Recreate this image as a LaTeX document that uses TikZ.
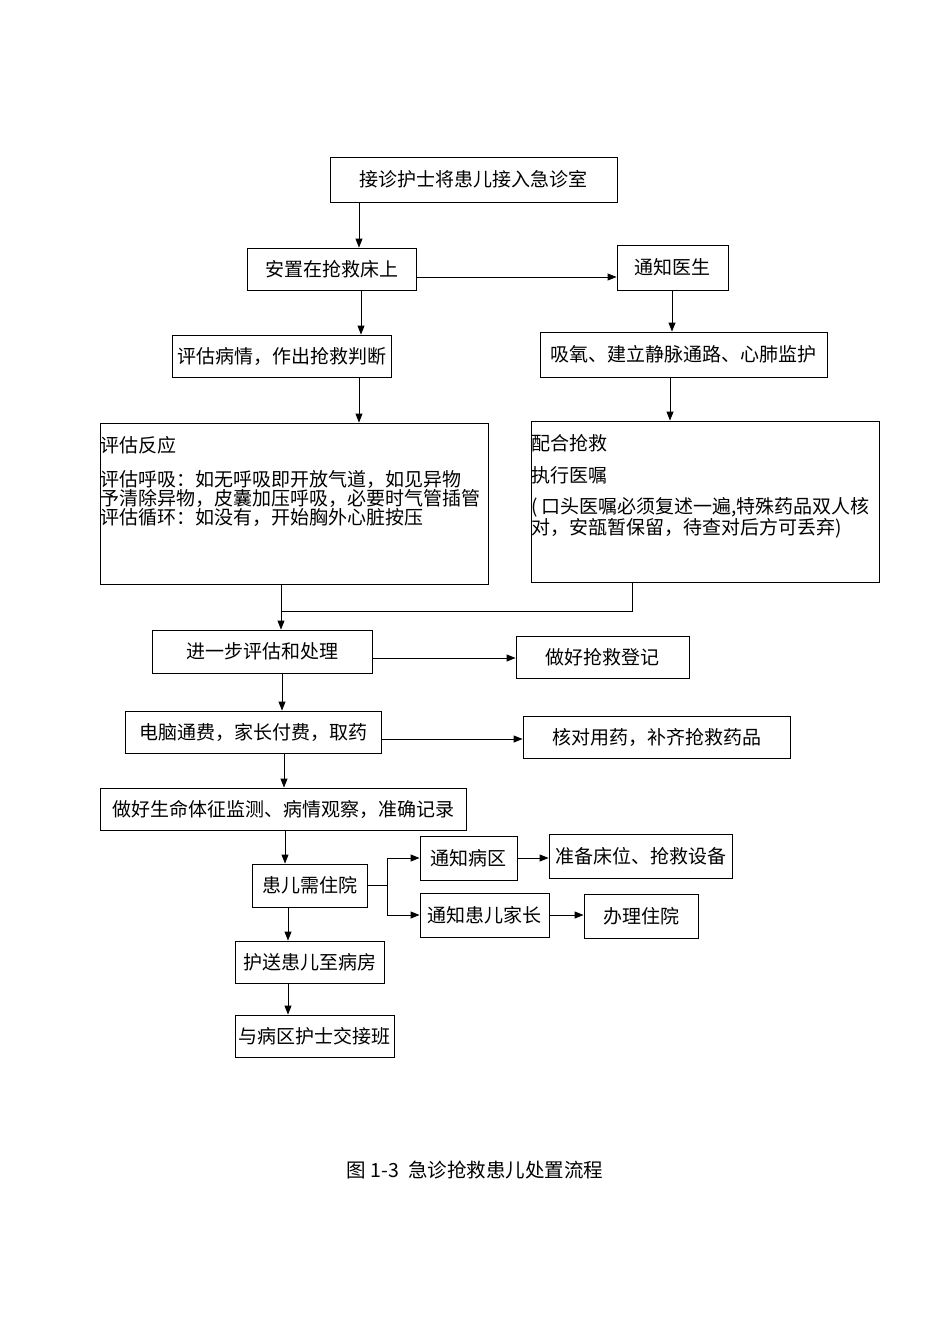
\documentclass[tikz,border=0pt]{standalone}
\usepackage{fontspec}
\setmainfont{Noto Sans CJK SC}
\usetikzlibrary{arrows.meta}

\begin{document}
\begin{tikzpicture}[x=1pt,y=-1pt,
  every node/.style={inner sep=0pt},
  flowbox/.style={draw,line width=0.9pt,font=\fontsize{19}{19}\selectfont},
  arr/.style={line width=0.9pt,-{Triangle[length=9pt,width=7pt]}},
  conn/.style={line width=0.9pt}]
\useasboundingbox (0,0) rectangle (950,1344);
\node[flowbox,minimum width=287,minimum height=45] (recv) at (473.5,179.5) {接诊护士将患儿接入急诊室};
\node[flowbox,minimum width=169,minimum height=42] (bed) at (331.5,269) {安置在抢救床上};
\node[flowbox,minimum width=111,minimum height=45] (doc) at (672.5,267.5) {通知医生};
\node[flowbox,minimum width=219,minimum height=42] (judge) at (281.5,356) {评估病情，作出抢救判断};
\node[flowbox,minimum width=287,minimum height=45] (oxy) at (683.5,354.5) {吸氧、建立静脉通路、心肺监护};
\node[flowbox,minimum width=388,minimum height=161] (resp) at (294,503.5) {};
\node[anchor=north west,align=left,font=\fontsize{19}{19}\selectfont] (resptxt) at ([xshift=1,yshift=-14]resp.north west)
  {评估反应\\[15pt]评估呼吸：如无呼吸即开放气道，如见异物\\予清除异物，皮囊加压呼吸，必要时气管插管\\评估循环：如没有，开始胸外心脏按压};
\node[flowbox,minimum width=348,minimum height=161] (coop) at (705,501.5) {};
\node[anchor=north west,align=left,font=\fontsize{19}{21}\selectfont] (cooptxt) at ([xshift=1,yshift=-14]coop.north west)
  {配合抢救\\[11pt]执行医嘱\\[10pt](\,口头医嘱必须复述一遍,特殊药品双人核\\对，安瓿暂保留，待查对后方可丢弃)};
\node[flowbox,minimum width=220,minimum height=43] (further) at (262,651.5) {进一步评估和处理};
\node[flowbox,minimum width=173,minimum height=42] (reg) at (602.5,657) {做好抢救登记};
\node[flowbox,minimum width=256,minimum height=42] (fee) at (253,732) {电脑通费，家长付费，取药};
\node[flowbox,minimum width=267,minimum height=42] (check) at (656.5,737) {核对用药，补齐抢救药品};
\node[flowbox,minimum width=366,minimum height=42] (vital) at (283,809) {做好生命体征监测、病情观察，准确记录};
\node[flowbox,minimum width=115,minimum height=43] (admit) at (309.5,885.5) {患儿需住院};
\node[flowbox,minimum width=97,minimum height=44] (ward) at (468.5,858) {通知病区};
\node[flowbox,minimum width=183,minimum height=44] (prep) at (640.5,856) {准备床位、抢救设备};
\node[flowbox,minimum width=129,minimum height=44] (parent) at (484.5,915) {通知患儿家长};
\node[flowbox,minimum width=114,minimum height=44] (proc) at (641,916) {办理住院};
\node[flowbox,minimum width=149,minimum height=42] (escort) at (309.5,962) {护送患儿至病房};
\node[flowbox,minimum width=159,minimum height=42] (handover) at (314.5,1036) {与病区护士交接班};
\node[font=\fontsize{19.5}{19.5}\selectfont] (caption) at (475,1170) {图 1-3\ \ 急诊抢救患儿处置流程};

\draw[arr] ([xshift=-114.5]recv.south) -- ([xshift=27.5]bed.north);
\draw[arr] ([xshift=29.5]bed.south) -- ([xshift=79.5]judge.north);
\draw[arr] ([yshift=-8]bed.east) -- ([yshift=-9.5]doc.west);
\draw[arr] ([xshift=-0.5]doc.south) -- ([xshift=-11.5]oxy.north);
\draw[arr] ([xshift=77.5]judge.south) -- ([xshift=65]resp.north);
\draw[arr] ([xshift=-13.5]oxy.south) -- ([xshift=-35]coop.north);
\draw[conn] ([xshift=-13]resp.south) -- ++(0,27) coordinate (join) -| ([xshift=-73]coop.south);
\draw[arr] (join) -- ([xshift=19]further.north);
\draw[arr] ([yshift=-6.5]further.east) -- ([yshift=-1]reg.west);
\draw[arr] ([xshift=20]further.south) -- ([xshift=29]fee.north);
\draw[arr] ([yshift=-7]fee.east) -- ([yshift=-2]check.west);
\draw[arr] ([xshift=31]fee.south) -- ([xshift=1]vital.north);
\draw[arr] ([xshift=2]vital.south) -- ([xshift=-24.5]admit.north);
\draw[conn] (admit.east) -- ++(20,0) coordinate (fork);
\draw[arr] (fork) |- (ward.west);
\draw[arr] (fork) |- (parent.west);
\draw[arr] (ward.east) -- (ward.east -| prep.west);
\draw[arr] (parent.east) -- (parent.east -| proc.west);
\draw[arr] ([xshift=-21.5]admit.south) -- ([xshift=-21.5]escort.north);
\draw[arr] ([xshift=-21.5]escort.south) -- ([xshift=-26.5]handover.north);
\end{tikzpicture}
\end{document}
